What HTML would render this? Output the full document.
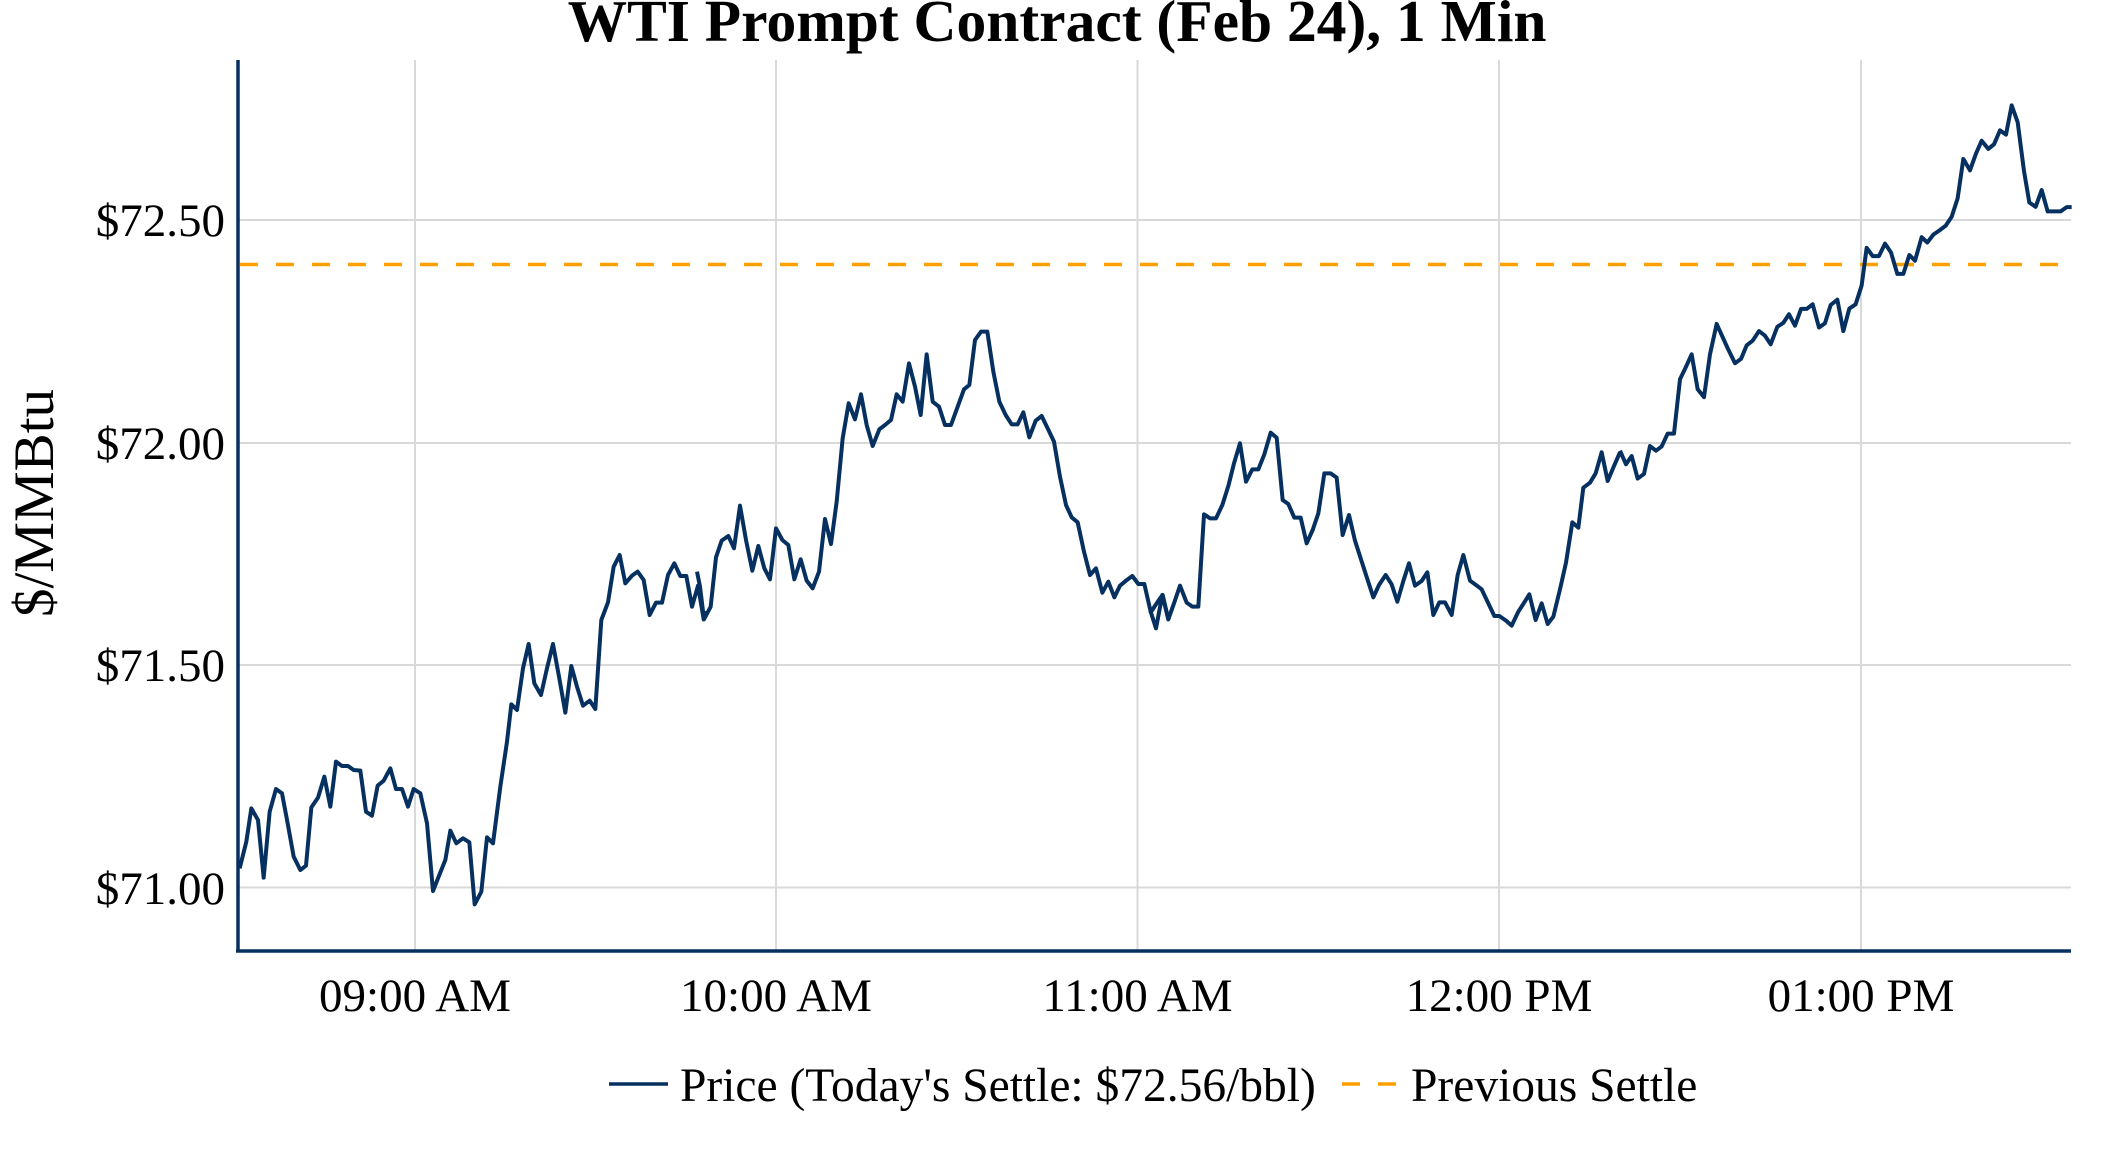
<!DOCTYPE html>
<html><head><meta charset="utf-8"><style>
html,body{margin:0;padding:0;background:#fff;}
svg{display:block;}
text{font-family:"Liberation Serif","Times New Roman",serif;fill:#000;}
</style></head><body>
<svg width="2112" height="1152" viewBox="0 0 2112 1152" xmlns="http://www.w3.org/2000/svg">
<rect width="2112" height="1152" fill="#fff"/>
<text x="1057" y="41" font-size="59.5" font-weight="bold" text-anchor="middle">WTI Prompt Contract (Feb 24), 1 Min</text>
<g stroke="#d9d9d9" stroke-width="2">
<line x1="415" y1="60" x2="415" y2="951"/>
<line x1="776" y1="60" x2="776" y2="951"/>
<line x1="1137.5" y1="60" x2="1137.5" y2="951"/>
<line x1="1499" y1="60" x2="1499" y2="951"/>
<line x1="1861" y1="60" x2="1861" y2="951"/>
<line x1="237" y1="220" x2="2071" y2="220"/>
<line x1="237" y1="443" x2="2071" y2="443"/>
<line x1="237" y1="665" x2="2071" y2="665"/>
<line x1="237" y1="887.5" x2="2071" y2="887.5"/>
</g>
<line x1="240" y1="264.5" x2="2071" y2="264.5" stroke="#ff9f00" stroke-width="3.5" stroke-dasharray="18,18"/>
<g fill="none" stroke="#05305f" stroke-width="4" stroke-linejoin="round">
<polyline vector-effect="non-scaling-stroke" transform="translate(237,530) scale(0.33333)" points="8,1015 28,935 43,835 63,870 80,1043 98,845 117,777 135,790 152,880 170,980 190,1020 207,1007 223,832 243,803 262,740 280,830 297,695 315,708 333,708 350,720 370,722 387,845 405,857 422,767 440,752 460,715 477,777 495,777 513,830 530,777 550,790 570,880 588,1083 605,1040 625,990 640,902 658,940 678,925 697,937 713,1123 733,1085 750,922 768,940 790,770 810,635 823,523 840,540 858,415 875,342 892,460 912,495 930,415 948,342 967,445 985,548 1003,408 1020,470 1038,527 1058,512 1075,537 1093,270 1113,217 1130,110 1148,75 1165,160 1185,137 1202,125 1220,150 1238,255 1257,218 1275,218 1293,135 1312,100 1330,138 1348,138 1365,230 1383,167 1400,268 1410,245"/>
<polyline vector-effect="non-scaling-stroke" transform="translate(700,320) scale(0.33333)" points="-9,755 0,800 12,898 32,860 48,712 65,662 85,648 102,685 120,557 138,660 157,752 175,678 193,745 210,778 228,625 247,660 265,675 283,778 302,718 320,782 338,805 357,755 375,597 393,672 410,545 428,355 446,250 465,298 483,223 500,315 518,378 538,328 555,315 573,300 590,223 608,245 627,130 645,200 662,285 680,103 698,245 717,260 735,315 753,315 773,260 792,208 808,195 825,60 843,35 862,35 880,155 898,245 917,285 935,313 953,313 970,277 988,352 1007,302 1025,288 1043,325 1062,365 1080,470 1098,555 1115,592 1133,607 1152,695 1170,765 1188,745 1207,818 1225,785 1243,832 1260,797 1278,782 1297,768 1315,792 1333,792 1352,875 1368,925 1387,825 1405,898 1410,880"/>
<polyline vector-effect="non-scaling-stroke" transform="translate(1160,400) scale(0.33333)" points="-30,640 0,595 8,585 25,658 42,610 60,557 80,608 97,620 115,620 132,343 150,355 168,355 187,315 205,258 222,190 240,130 258,245 277,208 295,208 313,163 332,98 350,113 368,300 385,312 403,353 422,353 440,430 458,390 475,340 493,220 512,220 530,233 548,405 567,345 585,422 603,478 622,537 640,592 657,555 677,525 695,553 712,605 730,543 747,490 765,557 785,543 802,517 820,645 838,607 855,607 875,645 893,525 910,465 930,542 948,555 965,568 985,610 1003,648 1018,648 1038,662 1055,677 1075,635 1093,607 1108,583 1127,660 1145,610 1163,672 1180,650 1200,568 1218,488 1237,367 1255,383 1270,263 1290,248 1307,220 1325,157 1343,243 1362,198 1380,157"/>
<polyline vector-effect="non-scaling-stroke" transform="translate(1620,90) scale(0.33333,0.35714)" points="0,1010 18,1048 35,1025 53,1088 72,1075 90,997 108,1010 125,998 143,962 162,962 180,810 198,775 215,740 233,838 252,860 270,740 290,655 307,690 325,727 345,765 363,753 380,715 398,702 417,675 435,688 452,712 472,663 490,652 507,628 525,660 543,613 560,613 578,600 597,665 615,653 632,602 652,587 670,675 688,612 707,600 725,547 740,442 758,465 777,465 795,430 813,455 832,515 850,515 868,462 885,478 905,412 922,427 940,405 960,392 977,380 995,355 1013,303 1030,193 1050,225 1068,178 1085,142 1105,165 1122,152 1140,113 1158,125 1175,43 1193,90 1212,227 1228,315 1247,327 1265,280 1283,340 1302,340 1322,340 1340,328 1355,328"/>
</g>
<g stroke="#05305f" stroke-width="3.5">
<line x1="238" y1="60" x2="238" y2="952.5"/>
<line x1="236" y1="951" x2="2071" y2="951"/>
</g>
<g font-size="47" text-anchor="end">
<text x="225" y="236">$72.50</text>
<text x="225" y="459">$72.00</text>
<text x="225" y="681">$71.50</text>
<text x="225" y="904">$71.00</text>
</g>
<g font-size="47" text-anchor="middle">
<text x="415" y="1011">09:00 AM</text>
<text x="776" y="1011">10:00 AM</text>
<text x="1137.5" y="1011">11:00 AM</text>
<text x="1499" y="1011">12:00 PM</text>
<text x="1861" y="1011">01:00 PM</text>
</g>
<text transform="translate(53,503) rotate(-90)" font-size="57" text-anchor="middle">$/MMBtu</text>
<line x1="609" y1="1084" x2="668" y2="1084" stroke="#05305f" stroke-width="3.5"/>
<text x="680" y="1101" font-size="47.5">Price (Today's Settle: $72.56/bbl)</text>
<line x1="1342" y1="1084" x2="1396" y2="1084" stroke="#ff9f00" stroke-width="3.5" stroke-dasharray="18,18"/>
<text x="1411" y="1101" font-size="47.5">Previous Settle</text>
</svg>
</body></html>
